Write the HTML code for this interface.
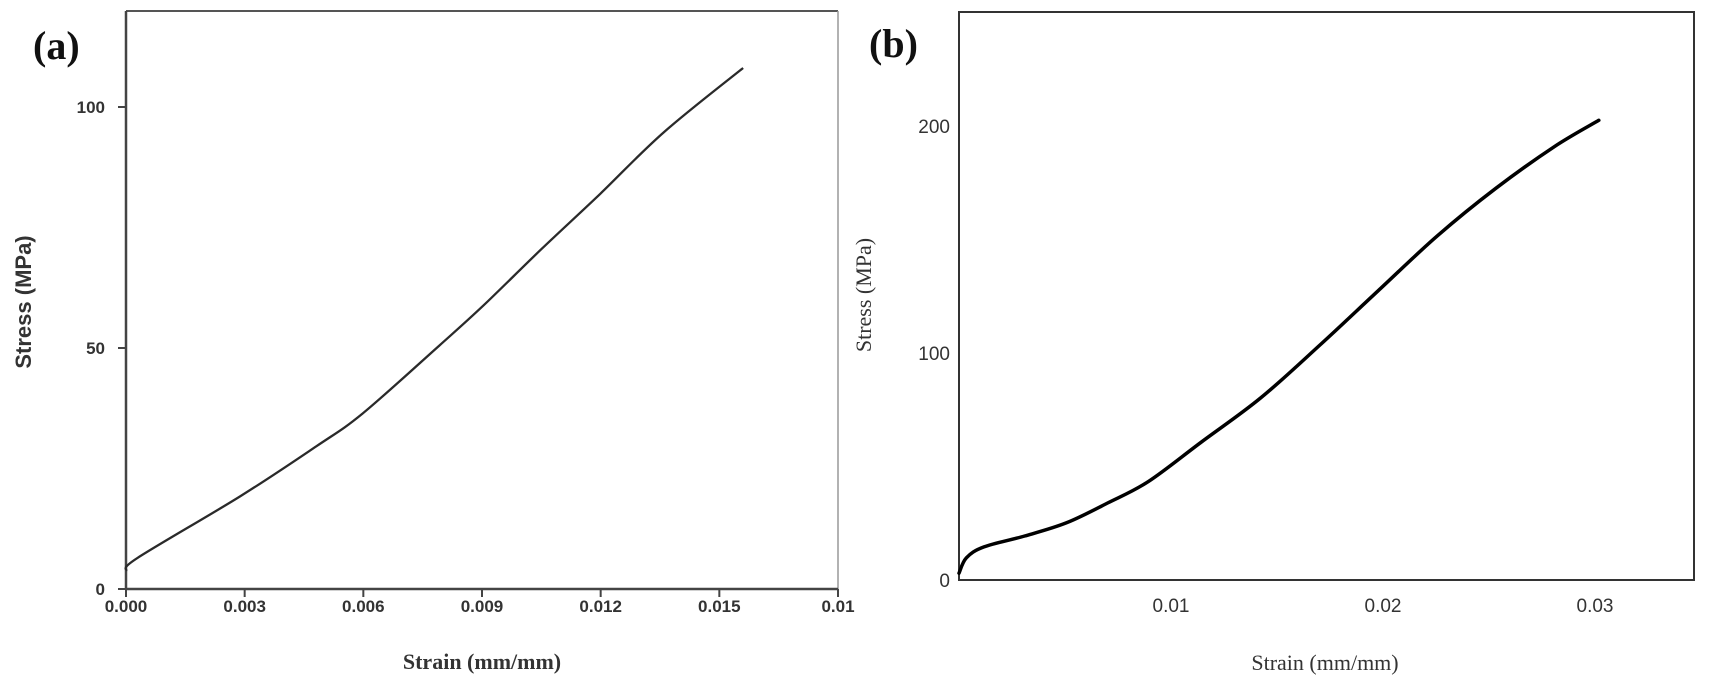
<!DOCTYPE html>
<html><head><meta charset="utf-8"><style>
html,body{margin:0;padding:0;background:#fff;}
svg{display:block;}
.tka{font:bold 17px "Liberation Sans",sans-serif;fill:#333;}
.tkb{font:19px "Liberation Sans",sans-serif;fill:#333;}
</style></head><body>
<svg id="fig" width="1712" height="686" viewBox="0 0 1712 686" xmlns="http://www.w3.org/2000/svg">
<rect width="1712" height="686" fill="#fff"/>
<g id="pa"></g>
<g id="pb"></g>
</svg>
<script>
const aStrain=[0,0.0003,0.00288,0.00481,0.00598,0.00792,0.00902,0.0105,0.01199,0.0136,0.0156];
const aStress=[3.8,6.5,19.2,29.6,36.4,50.5,58.7,70.5,82,94.8,108.1];
const aXTicks=[0,0.003,0.006,0.009,0.012,0.015,0.018];
const aXTickLabels=["0.000","0.003","0.006","0.009","0.012","0.015","0.01"];
const aYTicks=[0,50,100];
const bStrain=[0,0.00035,0.00118,0.0031,0.00507,0.00701,0.00895,0.01145,0.01423,0.017,0.01977,0.02255,0.02533,0.0281,0.03018];
const bStress=[3,9.8,14.6,19.4,25.2,33.9,43.5,60.9,80.2,103.3,127.4,151.5,172.6,191,202.5];
const bXTicks=[0.01,0.02,0.03];
const bYTicks=[0,100,200];

const NS="http://www.w3.org/2000/svg";
function mk(p,tag,attrs,txt){const e=document.createElementNS(NS,tag);for(const k in attrs)e.setAttribute(k,attrs[k]);if(txt!==undefined)e.textContent=txt;p.appendChild(e);return e;}
function path(xs,ys,X,Y){
  const P=xs.map((v,i)=>[X(v),Y(ys[i])]);
  let d='M'+P[0][0].toFixed(1)+' '+P[0][1].toFixed(1);
  for(let i=0;i<P.length-1;i++){
    const p0=P[Math.max(0,i-1)],p1=P[i],p2=P[i+1],p3=P[Math.min(P.length-1,i+2)];
    const c1=[p1[0]+(p2[0]-p0[0])/6,p1[1]+(p2[1]-p0[1])/6];
    const c2=[p2[0]-(p3[0]-p1[0])/6,p2[1]-(p3[1]-p1[1])/6];
    d+=' C'+c1[0].toFixed(1)+' '+c1[1].toFixed(1)+' '+c2[0].toFixed(1)+' '+c2[1].toFixed(1)+' '+p2[0].toFixed(1)+' '+p2[1].toFixed(1);
  }
  return d;
}

// Panel A
const pa=document.getElementById('pa');
const ax0=126,ax1=838,ay0=589,ay1=11;
const aX=v=>ax0+v/0.018*(ax1-ax0);
const aY=v=>ay0-v*4.82;
let e;
e=mk(pa,'line',{x1:ax0,y1:ay1,x2:ax1,y2:ay1,stroke:'#555','stroke-width':2});


e=mk(pa,'line',{x1:ax1,y1:ay1,x2:ax1,y2:ay0,stroke:'#999','stroke-width':1.5});


e=mk(pa,'line',{x1:ax0,y1:ay1,x2:ax0,y2:ay0+1,stroke:'#444','stroke-width':2.5});


e=mk(pa,'line',{x1:ax0,y1:ay0,x2:ax1,y2:ay0,stroke:'#444','stroke-width':2.5});


aXTicks.forEach((t,i)=>{
  const x=aX(t);
  const l=mk(pa,'line',{x1:x,y1:ay0,x2:x,y2:ay0+8,stroke:'#444','stroke-width':2});
  
  
  const tx=mk(pa,'text',{x:x,y:612,'text-anchor':'middle',class:'tka'},aXTickLabels[i]);
  
  
});
aYTicks.forEach(t=>{
  const y=aY(t);
  const l=mk(pa,'line',{x1:ax0-8,y1:y,x2:ax0,y2:y,stroke:'#444','stroke-width':2});
  
  
  const tx=mk(pa,'text',{x:ax0-21,y:y+6,'text-anchor':'end',class:'tka'},String(t));
  
  
});
e=mk(pa,'path',{d:path(aStrain,aStress,aX,aY),fill:'none',stroke:'#2a2a2a','stroke-width':2.3,'stroke-linejoin':'round'});


e=mk(pa,'text',{x:33,y:59,style:'font:bold 40px "Liberation Serif",serif;fill:#111'},'(a)');


e=mk(pa,'text',{x:482,y:669,'text-anchor':'middle',style:'font:bold 22px "Liberation Serif",serif;fill:#333'},'Strain (mm/mm)');


e=mk(pa,'text',{x:0,y:0,'text-anchor':'middle',transform:'translate(31,302) rotate(-90)',style:'font:bold 22px "Liberation Sans",sans-serif;fill:#333'},'Stress (MPa)');



// Panel B
const pb=document.getElementById('pb');
const bx0=959,bx1=1694,by0=580,by1=12;
const bX=v=>bx0+v*21200;
const bY=v=>by0-v*2.27;
e=mk(pb,'rect',{x:bx0,y:by1,width:bx1-bx0,height:by0-by1,fill:'none',stroke:'#333','stroke-width':2});


bXTicks.forEach(t=>{
  const tx=mk(pb,'text',{x:bX(t),y:612,'text-anchor':'middle',class:'tkb'},String(t));
  
  
});
bYTicks.forEach(t=>{
  const tx=mk(pb,'text',{x:bx0-9,y:bY(t)+7,'text-anchor':'end',class:'tkb'},String(t));
  
  
});
e=mk(pb,'path',{d:path(bStrain,bStress,bX,bY),fill:'none',stroke:'#000','stroke-width':3.5,'stroke-linejoin':'round','stroke-linecap':'round'});


e=mk(pb,'text',{x:869,y:57,style:'font:bold 40px "Liberation Serif",serif;fill:#111'},'(b)');


e=mk(pb,'text',{x:1325,y:670,'text-anchor':'middle',style:'font:22px "Liberation Serif",serif;fill:#333'},'Strain (mm/mm)');


e=mk(pb,'text',{x:0,y:0,'text-anchor':'middle',transform:'translate(871,295) rotate(-90)',style:'font:22px "Liberation Serif",serif;fill:#333'},'Stress (MPa)');


</script>
</body></html>
